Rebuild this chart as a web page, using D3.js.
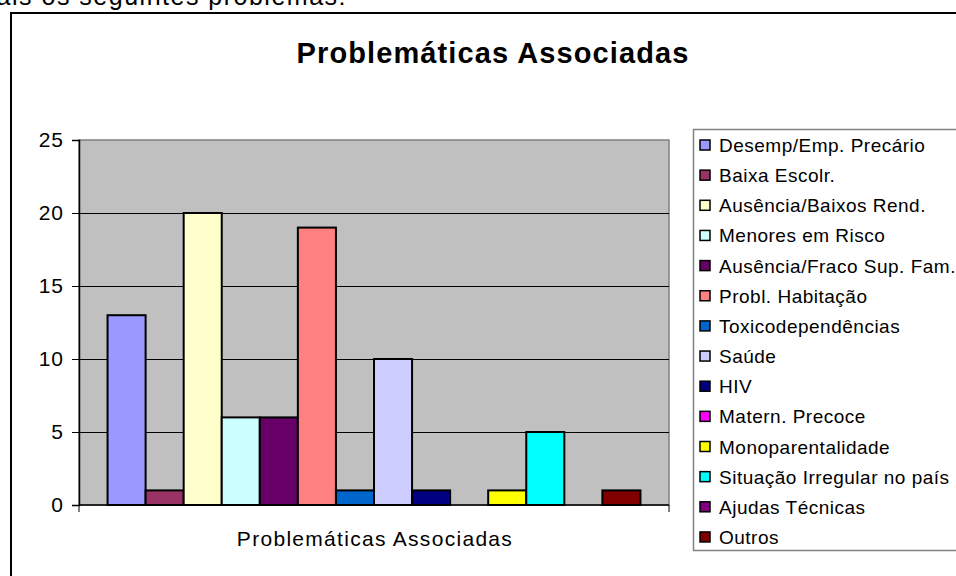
<!DOCTYPE html>
<html>
<head>
<meta charset="utf-8">
<script src="https://cdn.jsdelivr.net/npm/d3@7"></script>
<style>
  body { margin: 0; background: #fff; }
  svg { display: block; font-family: "Liberation Sans", Arial, sans-serif; }
</style>
</head>
<body>
<svg width="956" height="576"></svg>
<script>
const categoryLabel = 'Problemáticas Associadas'
const series = [
    'Desemp/Emp. Precário', 'Baixa Escolr.', 'Ausência/Baixos Rend.', 'Menores em Risco',
    'Ausência/Fraco Sup. Fam.', 'Probl. Habitação', 'Toxicodependências', 'Saúde',
    'HIV', 'Matern. Precoce', 'Monoparentalidade', 'Situação Irregular no país',
    'Ajudas Técnicas', 'Outros'
]
const values = [13, 1, 20, 6, 6, 19, 1, 10, 1, 0, 1, 5, 0, 1]
const colors = [
    '#9999ff', '#993366', '#ffffcc', '#ccffff', '#660066', '#ff8080', '#0066cc',
    '#ccccff', '#000080', '#ff00ff', '#ffff00', '#00ffff', '#800080', '#800000'
]
const yTicks = [0, 5, 10, 15, 20, 25]

const svg = d3.select('svg')

// text above the chart, cut off by the window
svg.append('text')
    .attr('x', 347).attr('y', 5)
    .attr('text-anchor', 'end')
    .attr('font-size', 25)
    .attr('letter-spacing', 1.5)
    .text('mais os seguintes problemas:')

// chart border
svg.append('rect')
    .attr('x', 11).attr('y', 13)
    .attr('width', 1000).attr('height', 600)
    .attr('fill', 'none').attr('stroke', '#000').attr('stroke-width', 2)

svg.append('text')
    .attr('x', 493).attr('y', 63)
    .attr('text-anchor', 'middle')
    .attr('font-size', 29).attr('font-weight', 'bold')
    .attr('letter-spacing', 1.1)
    .text(categoryLabel)

const plot = { left: 79, top: 140, right: 669, bottom: 505 }

const y = d3.scaleLinear().domain([0, 25]).range([plot.bottom, plot.top])
const x = d3.scaleBand()
    .domain(series)
    .range([plot.left, plot.right])
    .paddingInner(0)
    .paddingOuter(0.75)

svg.append('rect')
    .attr('x', plot.left).attr('y', plot.top)
    .attr('width', plot.right - plot.left).attr('height', plot.bottom - plot.top)
    .attr('fill', '#c0c0c0').attr('stroke', '#808080').attr('stroke-width', 1.5)

svg.append('g')
    .selectAll('line')
    .data(yTicks.filter(d => d > 0 && d < 25))
    .join('line')
    .attr('x1', plot.left).attr('x2', plot.right)
    .attr('y1', d => Math.round(y(d)) + 0.5).attr('y2', d => Math.round(y(d)) + 0.5)
    .attr('stroke', '#000')

svg.append('g')
    .selectAll('rect')
    .data(values)
    .join('rect')
    .attr('x', (d, i) => x(series[i]))
    .attr('y', d => y(d))
    .attr('width', x.bandwidth())
    .attr('height', d => plot.bottom - y(d))
    .attr('fill', (d, i) => colors[i])
    .attr('stroke', '#000')
    .attr('stroke-width', 2)
    .attr('opacity', d => d > 0 ? 1 : 0)

const yAxis = svg.append('g')
    .attr('transform', `translate(${plot.left},0)`)
    .call(d3.axisLeft(y).tickValues(yTicks).tickSize(7).tickPadding(9))
yAxis.select('.domain').attr('stroke', '#000').attr('stroke-width', 1.5)
yAxis.selectAll('text').attr('font-size', 21).attr('fill', '#000')
    .attr('letter-spacing', 1).attr('dx', 1)
    .attr('font-family', '"Liberation Sans", Arial, sans-serif')

// category axis
const xAxis = svg.append('g')
svg.append('line')
    .attr('x1', plot.left).attr('x2', plot.right)
    .attr('y1', plot.bottom).attr('y2', plot.bottom)
    .attr('stroke', '#000').attr('stroke-width', 1.5)
xAxis.selectAll('line')
    .data([plot.left, plot.right])
    .join('line')
    .attr('x1', d => d).attr('x2', d => d)
    .attr('y1', plot.bottom).attr('y2', plot.bottom + 7)
    .attr('stroke', '#000')
svg.append('text')
    .attr('x', 375).attr('y', 546)
    .attr('text-anchor', 'middle')
    .attr('font-size', 21)
    .attr('letter-spacing', 1.3)
    .text(categoryLabel)

// legend
const legend = svg.append('g')
legend.append('rect')
    .attr('x', 693.5).attr('y', 129.5)
    .attr('width', 400).attr('height', 421)
    .attr('fill', '#fff').attr('stroke', '#808080').attr('stroke-width', 1.5)
const item = legend.selectAll('g.item')
    .data(series)
    .join('g')
    .attr('class', 'item')
    .attr('transform', (d, i) => `translate(0,${145 + i * 30.15})`)
item.append('rect')
    .attr('x', 700).attr('y', -5)
    .attr('width', 10).attr('height', 10)
    .attr('fill', (d, i) => colors[i])
    .attr('stroke', '#000').attr('stroke-width', 1.5)
item.append('text')
    .attr('x', 719).attr('y', 7)
    .attr('font-size', 19)
    .attr('letter-spacing', 0.5)
    .text(d => d)
</script>
</body>
</html>
